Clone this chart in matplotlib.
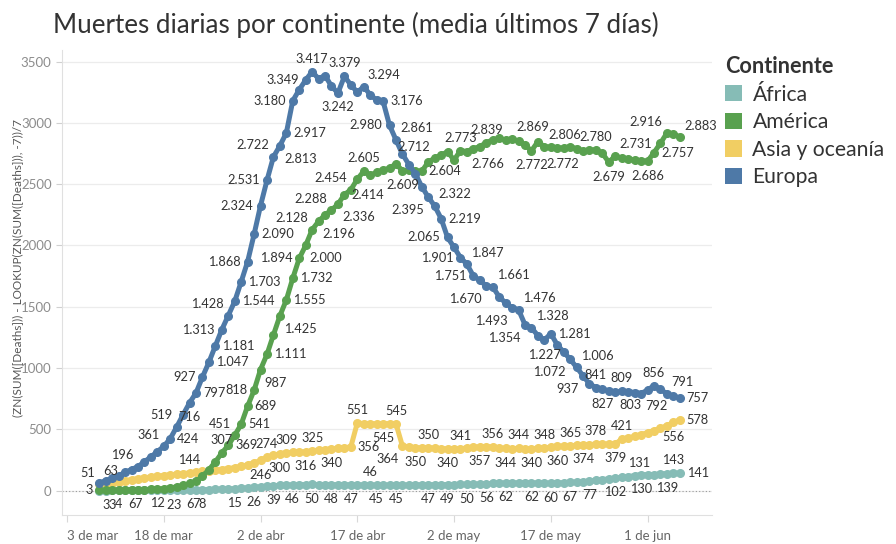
import pandas as pd
import matplotlib
matplotlib.use('Agg')
import matplotlib.pyplot as plt
import matplotlib.dates as mdates
from matplotlib.patches import Patch

plt.rcParams['font.family'] = ['Lato', 'DejaVu Sans']

# daily values, 8 Mar 2020 .. 6 Jun 2020 (7-day mean of deaths)
dates = pd.date_range('2020-03-08', '2020-06-06', freq='D')

africa = [0, 0, 1, 1, 1, 1, 1, 1, 2, 2,
          2, 2, 3, 4, 6, 7, 8, 9, 10, 12,
          13, 15, 19, 22, 26, 31, 35, 39, 42, 44,
          46, 48, 49, 50, 49, 49, 48, 48, 47, 47,
          46, 46, 46, 45, 45, 45, 45, 45, 46, 46,
          47, 47, 48, 48, 49, 49, 50, 50, 52, 54,
          56, 58, 60, 62, 62, 62, 62, 62, 61, 61,
          60, 62, 64, 67, 70, 73, 77, 83, 90, 96,
          102, 108, 115, 122, 130, 129, 131, 135, 139, 143,
          141]

america = [3, 3, 3, 4, 6, 6, 7, 9, 10, 12,
           16, 22, 30, 42, 58, 75, 120, 170, 235, 307,
           369, 451, 541, 689, 818, 987, 1111, 1270, 1425, 1555,
           1732, 1894, 2000, 2128, 2196, 2250, 2288, 2336, 2414, 2454,
           2540, 2605, 2574, 2595, 2615, 2630, 2665, 2609, 2612, 2608,
           2604, 2680, 2712, 2737, 2764, 2697, 2773, 2766, 2790, 2805,
           2839, 2860, 2873, 2860, 2869, 2850, 2820, 2772, 2846, 2806,
           2800, 2792, 2795, 2805, 2790, 2772, 2776, 2780, 2751, 2679,
           2731, 2710, 2702, 2697, 2690, 2686, 2757, 2833, 2916, 2912,
           2883]

asia = [51, 58, 66, 74, 82, 90, 97, 104, 111, 117,
        123, 129, 134, 139, 144, 150, 156, 161, 166, 172,
        179, 188, 198, 210, 226, 246, 274, 288, 300, 309,
        312, 314, 316, 325, 330, 335, 340, 345, 350, 356,
        551, 547, 546, 544, 545, 546, 545, 364, 357, 350,
        348, 350, 345, 342, 340, 339, 341, 348, 354, 357,
        358, 356, 346, 344, 343, 344, 342, 340, 344, 348,
        354, 360, 362, 365, 370, 374, 376, 378, 378, 379,
        379, 421, 430, 442, 457, 473, 490, 508, 530, 556,
        578]

europe = [63, 80, 100, 122, 148, 172, 196, 235, 275, 318,
          361, 424, 519, 620, 716, 797, 927, 1047, 1181, 1313,
          1428, 1544, 1703, 1868, 2090, 2324, 2531, 2722, 2813, 2917,
          3180, 3270, 3349, 3417, 3360, 3385, 3300, 3242, 3379, 3310,
          3250, 3294, 3230, 3185, 3176, 2980, 2861, 2745, 2660, 2585,
          2480, 2395, 2322, 2219, 2065, 1985, 1901, 1847, 1751, 1715,
          1670, 1661, 1582, 1530, 1493, 1476, 1354, 1328, 1265, 1227,
          1281, 1190, 1130, 1072, 1006, 937, 870, 841, 827, 815,
          803, 809, 808, 800, 792, 820, 856, 825, 791, 770,
          757]

continents = ['África', 'América', 'Asia y oceanía', 'Europa']
colors = ['#86BCB6', '#59A14F', '#F1CE63', '#4E79A7']

# which points carry a label (days after 3 Mar) and where the text sits
africa_labels = [(16, 'b'), (17, 'b'), (19, 'b'), (20, 'b'), (21, 'b'), (26, 'b'),
                 (29, 'b'), (32, 'b'), (35, 'b'), (38, 'b'), (41, 'b'), (44, 'b'),
                 (47, 'a'), (48, 'b'), (51, 'b'), (56, 'b'), (59, 'b'), (62, 'b'),
                 (65, 'b'), (68, 'b'), (72, 'b'), (75, 'b'), (78, 'b'), (81, 'b'),
                 (85, 'b'), (89, 'b'), (91, 'al'), (93, 'b'), (94, 'a'), (95, 'r')]
america_labels = [(5, 'l'), (6, 'b'), (7, 'b'), (8, 'b'), (10, 'b'), (11, 'b'), (14, 'b'),
                  (24, 'a'), (25, 'r'), (26, 'al'), (27, 'r'), (28, 'r'), (29, 'l'),
                  (30, 'br'), (31, 'r'), (33, 'br'), (34, 'r'), (35, 'r'), (36, 'l'),
                  (37, 'br'), (38, 'al'), (39, 'br'), (41, 'al'), (42, 'br'), (43, 'r'),
                  (44, 'al'), (46, 'a'), (52, 'b'), (55, 'r'), (57, 'al'), (61, 'a'),
                  (62, 'br'), (65, 'a'), (69, 'ar'), (72, 'b'), (74, 'ar'), (80, 'bl'),
                  (82, 'a'), (84, 'b'), (85, 'ar'), (90, 'b'), (91, 'r'), (93, 'al'),
                  (95, 'ar')]
asia_labels = [(5, 'al'), (19, 'a'), (30, 'b'), (31, 'a'), (33, 'b'), (34, 'a'),
               (37, 'b'), (38, 'a'), (41, 'b'), (44, 'r'), (45, 'a'), (49, 'b'),
               (51, 'a'), (52, 'bl'), (54, 'b'), (56, 'a'), (59, 'b'), (61, 'a'),
               (64, 'b'), (66, 'a'), (68, 'b'), (70, 'a'), (72, 'b'), (74, 'a'),
               (76, 'b'), (78, 'a'), (80, 'b'), (82, 'a'), (85, 'b'), (86, 'a'),
               (94, 'b'), (95, 'r')]
europe_labels = [(5, 'ar'), (11, 'al'), (15, 'al'), (16, 'r'), (17, 'al'), (19, 'b'),
                 (20, 'r'), (21, 'l'), (22, 'r'), (23, 'r'), (24, 'l'), (25, 'al'),
                 (26, 'r'), (27, 'r'), (28, 'l'), (29, 'r'), (30, 'l'), (31, 'l'),
                 (32, 'al'), (33, 'br'), (34, 'r'), (35, 'l'), (37, 'l'), (38, 'a'),
                 (42, 'b'), (43, 'a'), (46, 'ar'), (49, 'r'), (50, 'l'), (51, 'ar'),
                 (56, 'bl'), (57, 'ar'), (58, 'r'), (59, 'l'), (61, 'l'), (62, 'ar'),
                 (63, 'l'), (65, 'bl'), (66, 'ar'), (69, 'bl'), (70, 'ar'), (71, 'bl'),
                 (72, 'ar'), (74, 'b'), (75, 'r'), (78, 'bl'), (79, 'ar'), (80, 'bl'),
                 (82, 'a'), (83, 'b'), (85, 'br'), (86, 'a'), (89, 'br'), (91, 'a'),
                 (93, 'ar'), (95, 'r')]

tick_dates = ['2020-03-03', '2020-03-18', '2020-04-02', '2020-04-17',
              '2020-05-02', '2020-05-17', '2020-06-01']
tick_labels = ['3 de mar', '18 de mar', '2 de abr', '17 de abr',
               '2 de may', '17 de may', '1 de jun']

# offsets in points: (dx, dy, ha, va)
place = {
    'a': (0, 5, 'center', 'bottom'),
    'b': (0, -6, 'center', 'top'),
    'l': (-5, 0, 'right', 'center'),
    'r': (5, 0, 'left', 'center'),
    'al': (-3, 4, 'right', 'bottom'),
    'ar': (3, 4, 'left', 'bottom'),
    'bl': (-3, -5, 'right', 'top'),
    'br': (3, -5, 'left', 'top'),
}


def fmt(v):
    return f'{v:,}'.replace(',', '.')


fig = plt.figure(figsize=(8.96, 5.44), dpi=100)
ax = fig.add_axes([62 / 896, 29 / 544, 650 / 896, 465 / 544])

series = [africa, america, asia, europe]
label_sets = [africa_labels, america_labels, asia_labels, europe_labels]
zorders = [2, 4, 3, 5]
start = pd.Timestamp('2020-03-03')

for vals, col, labs, z in zip(series, colors, label_sets, zorders):
    ax.plot(dates, vals, color=col, lw=3.6, marker='o', ms=5.5,
            solid_capstyle='round', zorder=z)
    for d, pos in labs:
        i = d - 5
        dx, dy, ha, va = place[pos]
        ax.annotate(fmt(vals[i]), (dates[i], vals[i]), xytext=(dx, dy),
                    textcoords='offset points', ha=ha, va=va,
                    fontsize=9.2, color='#333333', zorder=6)

ax.axhline(0, color='#9a9a9a', lw=0.8, ls=(0, (1, 2)), zorder=1)

x0 = mdates.date2num(start)
ax.set_xlim(x0 - 0.78, x0 + 100)
ax.set_ylim(-199, 3594)

ax.set_yticks(range(0, 3501, 500))
ax.set_yticklabels([str(t) for t in range(0, 3501, 500)])
ax.set_xticks(pd.to_datetime(tick_dates))
ax.set_xticklabels(tick_labels)
xl = ax.get_xticklabels()
xl[0].set_ha('left')

ax.yaxis.grid(True, color='#ececec', lw=0.9)
ax.set_axisbelow(True)
for s in ['top', 'right']:
    ax.spines[s].set_visible(False)
for s in ['left', 'bottom']:
    ax.spines[s].set_color('#e0e0e0')
ax.tick_params(axis='y', colors='#d0d0d0', labelcolor='#8c8c8c',
               labelsize=9.5, length=4)
ax.tick_params(axis='x', colors='#d8d8d8', labelcolor='#666666',
               labelsize=9.5, length=5, pad=6)

fig.text(53 / 896, 1 - 25 / 544,
         'Muertes diarias por continente (media últimos 7 días)',
         fontsize=18.7, color='#333333', va='center', ha='left')
fig.text(18 / 896, 1 - 268 / 544,
         '(ZN(SUM([Deaths])) - LOOKUP(ZN(SUM([Deaths])), -7))/7',
         rotation=90, fontsize=8.5, color='#555555', va='center', ha='center')

handles = [Patch(facecolor=c, edgecolor='none') for c in colors]
leg = fig.legend(handles, continents, loc='upper left',
                 bbox_to_anchor=(706 / 896, 1 - 37 / 544), frameon=False,
                 title='Continente', fontsize=15.2, handlelength=0.8,
                 handleheight=0.8, handletextpad=0.5, labelspacing=0.36,
                 alignment='left', labelcolor='#333333')
leg.get_title().set_fontsize(15.6)
leg.get_title().set_fontweight('bold')
leg.get_title().set_color('#333333')

fig.savefig('out.png', dpi=100)
